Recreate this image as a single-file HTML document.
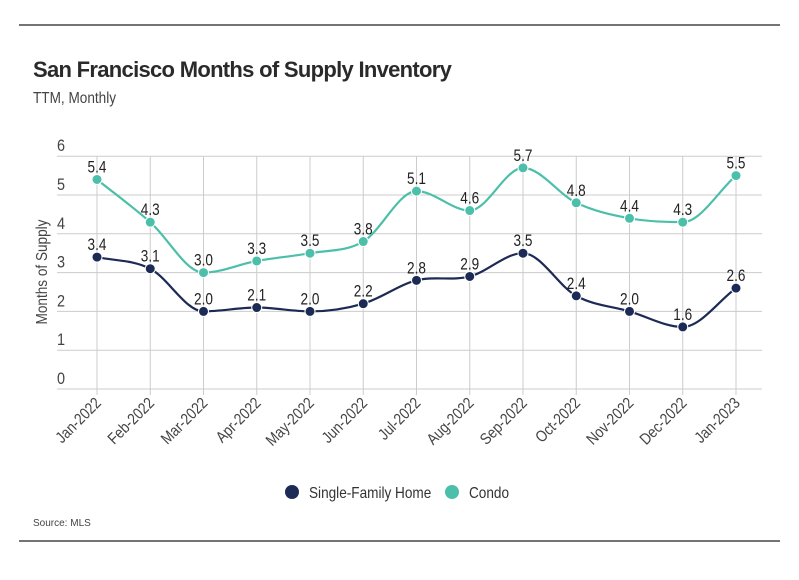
<!DOCTYPE html>
<html><head><meta charset="utf-8">
<style>
body{margin:0;background:#fff;width:799px;height:575px;overflow:hidden;font-family:"Liberation Sans",sans-serif}
</style></head>
<body>
<svg id="c" width="799" height="575" xmlns="http://www.w3.org/2000/svg">
<line x1="19" y1="25" x2="780" y2="25" stroke="#222" stroke-width="1.2"/>
<text x="33" y="77" font-size="22" font-weight="bold" fill="#2a2a2a" letter-spacing="-0.7">San Francisco Months of Supply Inventory</text>
<text transform="translate(33,103) scale(0.85,1)" font-size="16" fill="#444">TTM, Monthly</text>
<text transform="translate(47,272) rotate(-90) scale(0.85,1)" text-anchor="middle" font-size="16" fill="#444">Months of Supply</text>
<g id="grid"></g><g id="lines"></g><g id="pts"></g>
<g>
<circle cx="292" cy="492" r="7" fill="#1c2a56"/>
<text transform="translate(309,498) scale(0.85,1)" font-size="16" fill="#333">Single-Family Home</text>
<circle cx="452" cy="492" r="7" fill="#4cbfaa"/>
<text transform="translate(469,498) scale(0.85,1)" font-size="16" fill="#333">Condo</text>
</g>
<text x="33" y="526" font-size="10" fill="#444">Source:  MLS</text>
<line x1="19" y1="541" x2="780" y2="541" stroke="#222" stroke-width="1.2"/>
</svg>
<script>
const categories=["Jan-2022","Feb-2022","Mar-2022","Apr-2022","May-2022","Jun-2022","Jul-2022","Aug-2022","Sep-2022","Oct-2022","Nov-2022","Dec-2022","Jan-2023"];
const sfhValues=[3.4,3.1,2.0,2.1,2.0,2.2,2.8,2.9,3.5,2.4,2.0,1.6,2.6];
const condoValues=[5.4,4.3,3.0,3.3,3.5,3.8,5.1,4.6,5.7,4.8,4.4,4.3,5.5];
const yTicks=[0,1,2,3,4,5,6];
const NS="http://www.w3.org/2000/svg";
const x=i=>97+i*(736-97)/(categories.length-1);
const y=v=>389-v*38.8;
function mk(tag,attrs,parent){const e=document.createElementNS(NS,tag);for(const k in attrs)e.setAttribute(k,attrs[k]);document.getElementById(parent).appendChild(e);return e;}
yTicks.forEach(t=>{
 const l=mk('line',{x1:57,x2:762,y1:y(t),y2:y(t),stroke:'#ccc','stroke-width':1},'grid');
 
 
 const tx=mk('text',{transform:`translate(57,${y(t)-5}) scale(0.85,1)`,'font-size':17,fill:'#444'},'grid');tx.textContent=t;
 
 
});
categories.forEach((c,i)=>{
 const l=mk('line',{x1:x(i),x2:x(i),y1:156,y2:395,stroke:'#ccc','stroke-width':1},'grid');
 
 
 const tx=mk('text',{transform:`translate(${x(i)+5},${404}) rotate(-45) scale(0.85,1)`,'text-anchor':'end','font-size':16,fill:'#444'},'grid');tx.textContent=c;
 
 
});
function path(vals){
 const p=vals.map((v,i)=>[x(i),y(v)]);const n=p.length;
 const d=[],m=[];for(let i=0;i<n-1;i++)d.push((p[i+1][1]-p[i][1])/(p[i+1][0]-p[i][0]));
 for(let i=0;i<n;i++){if(i==0)m.push(d[0]);else if(i==n-1)m.push(d[n-2]);else m.push(d[i-1]*d[i]<=0?0:(d[i-1]+d[i])/2);}
 let s=`M${p[0][0]},${p[0][1]}`;
 for(let i=0;i<n-1;i++){const h=(p[i+1][0]-p[i][0])/3;s+=` C${p[i][0]+h},${p[i][1]+m[i]*h} ${p[i+1][0]-h},${p[i+1][1]-m[i+1]*h} ${p[i+1][0]},${p[i+1][1]}`;}
 return s;
}
[[sfhValues,'#1c2a56','sfh'],[condoValues,'#4cbfaa','condo']].forEach(([vals,col,nm])=>{
 const l=mk('path',{d:path(vals),fill:'none',stroke:col,'stroke-width':2.2},'lines');
 
 
 vals.forEach((v,i)=>{
  const c=mk('circle',{cx:x(i),cy:y(v),r:5,fill:col,stroke:'#fff','stroke-width':1},'pts');
  
  
  const t=mk('text',{transform:`translate(${x(i)},${y(v)-7}) scale(0.8,1)`,'text-anchor':'middle','font-size':17,fill:'#222'},'pts');t.textContent=v.toFixed(1);
  
  
 });
});
</script>
</body></html>
